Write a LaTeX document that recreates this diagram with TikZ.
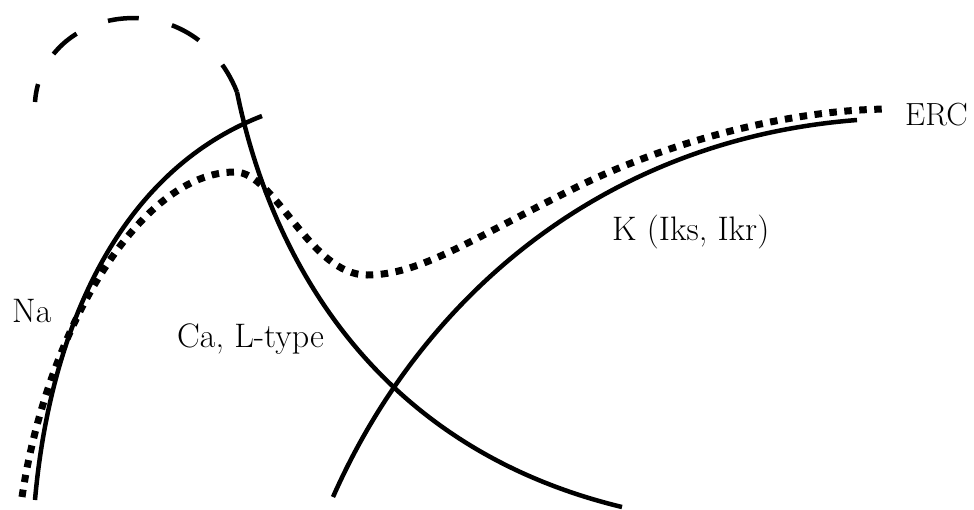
\documentclass[tikz,border=0pt]{standalone}
\usepackage{fontspec}
\begin{document}
\begin{tikzpicture}[x=1pt,y=-1pt,
  solidcurve/.style={line width=4.5pt},
  dotcurve/.style={line width=7pt,dash pattern=on 7.5pt off 7.5pt},
  dashcurve/.style={line width=4.5pt,dash pattern=on 31pt off 34pt},
  lbl/.style={inner sep=0pt,anchor=base west,font=\fontsize{34}{40}\selectfont}]
\useasboundingbox[fill=white] (0,0) rectangle (974,509);
% dashed arc (from junction with Ca curve, backwards)
\draw[dashcurve] (237,92) .. controls (192,-20) and (42,5) .. (35,102);
% Na curve
\draw[solidcurve] (35,500) .. controls (50,330) and (118,172) .. (262,116);
% Ca curve
\draw[solidcurve] (237,92) .. controls (268,245) and (365,445) .. (622,507);
% K curve
\draw[solidcurve] (333,497) .. controls (420,300) and (600,140) .. (857,120);
% ERC dotted curve
\draw[dotcurve] (22,497) .. controls (47,330) and (140,172) .. (235,172)
                .. controls (275,172) and (310,275) .. (367,275)
                .. controls (420,275) and (470,240) .. (577,187)
                .. controls (660,146) and (780,110) .. (888,109);
\node[lbl] (na) at (12,322) {Na};
\node[lbl] (ca) at (177,347) {Ca, L-type};
\node[lbl] (k) at (612,240) {K (Iks, Ikr)};
\node[lbl,font=\fontsize{32}{38}\selectfont] (erc) at (905,125) {ERC};
\end{tikzpicture}
\end{document}
